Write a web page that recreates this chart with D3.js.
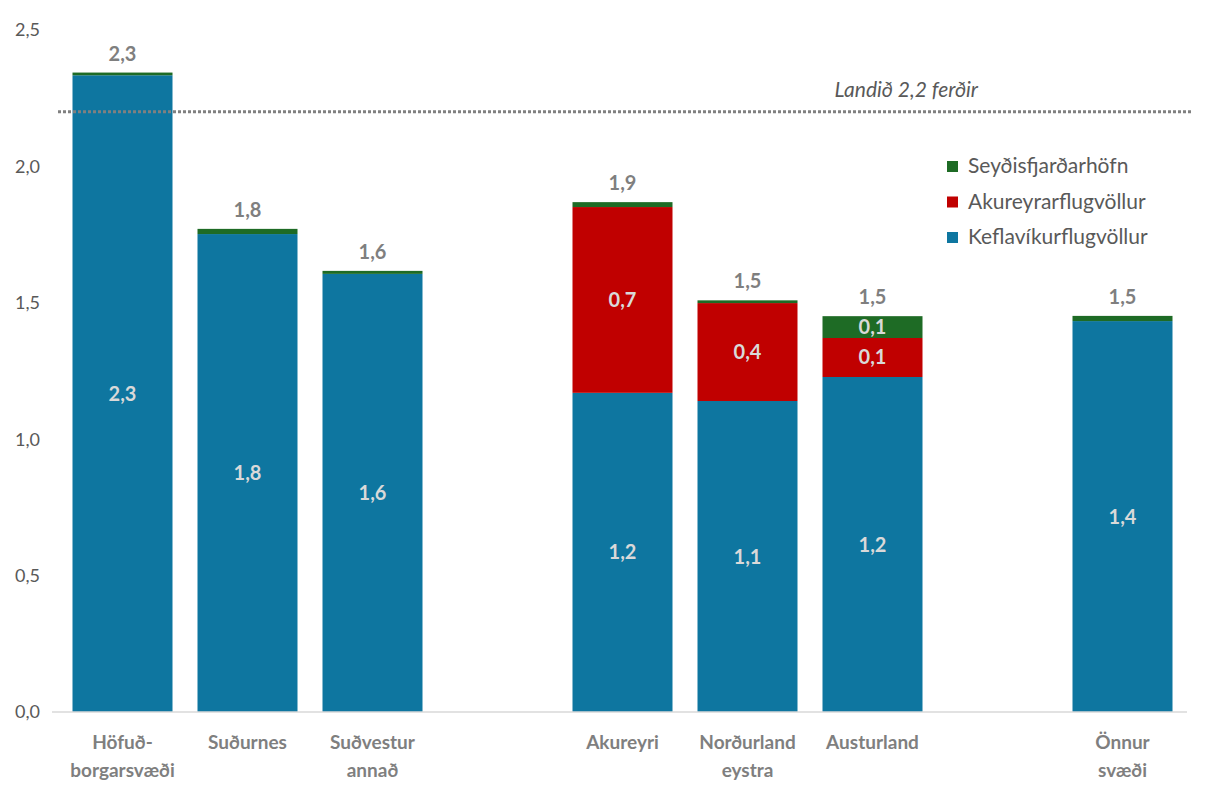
<!DOCTYPE html>
<html>
<head>
<meta charset="utf-8">
<script src="https://cdn.jsdelivr.net/npm/d3@7"></script>
<style>
  html, body { margin: 0; padding: 0; background: #fff; }
  svg { display: block; font-family: Lato, "Open Sans", sans-serif; }
</style>
</head>
<body>
<svg id="chart" width="1205" height="787"></svg>
<script>
// ---- data ----
const slots = ["Höfuðborgarsvæði", "Suðurnes", "Suðvestur annað", "_gap1", "Akureyri", "Norðurland eystra", "Austurland", "_gap2", "Önnur svæði"];
const categories = ["Höfuðborgarsvæði", "Suðurnes", "Suðvestur annað", "Akureyri", "Norðurland eystra", "Austurland", "Önnur svæði"];
const categoryLines = [["Höfuð-", "borgarsvæði"], ["Suðurnes"], ["Suðvestur", "annað"], ["Akureyri"], ["Norðurland", "eystra"], ["Austurland"], ["Önnur", "svæði"]];
const seriesNames = ["Keflavíkurflugvöllur", "Akureyrarflugvöllur", "Seyðisfjarðarhöfn"];
const keflavik = [2.334, 1.752, 1.606, 1.170, 1.140, 1.228, 1.433];
const akureyri = [0.000, 0.000, 0.000, 0.681, 0.359, 0.143, 0.000];
const seydis   = [0.010, 0.019, 0.011, 0.018, 0.010, 0.080, 0.019];
const yTicks = [0, 0.5, 1.0, 1.5, 2.0, 2.5];
const refValue = 2.2;
const refLabel = "Landið 2,2 ferðir";
const colors = ["#0e76a0", "#c00000", "#1e6b25"];

// ---- layout ----
const svg = d3.select("#chart");
const plotLeft = 60, plotRight = 1185, plotTop = 30, plotBottom = 712;

const x = d3.scaleBand().domain(slots).range([plotLeft, plotRight]).paddingInner(0.2).paddingOuter(0.1);
const y = d3.scaleLinear().domain([0, 2.5]).range([plotBottom, plotTop]);

const fmt = v => d3.format(".1f")(v).replace(".", ",");

const rows = categories.map((c, i) => ({ cat: c, k: keflavik[i], a: akureyri[i], s: seydis[i] }));
const stack = d3.stack().keys(["k", "a", "s"])(rows);

// y tick labels
svg.append("g").selectAll("text").data(yTicks).join("text")
  .attr("x", 40).attr("y", d => y(d)).attr("dy", "0.35em")
  .attr("text-anchor", "end").attr("fill", "#595959").attr("font-size", 18)
  .text(d => fmt(d));

// bars
stack.forEach((layer, li) => {
  svg.append("g").selectAll("rect").data(layer).join("rect")
    .attr("x", d => x(d.data.cat))
    .attr("width", x.bandwidth())
    .attr("y", d => y(d[1]))
    .attr("height", d => Math.max(0, y(d[0]) - y(d[1])))
    .attr("fill", colors[li]);
});
stack.forEach((layer, li) => {
  svg.append("g").selectAll("text").data(layer.filter(d => d[1] - d[0] >= 0.05)).join("text")
    .attr("x", d => x(d.data.cat) + x.bandwidth() / 2)
    .attr("y", d => (y(d[0]) + y(d[1])) / 2)
    .attr("dy", "0.35em")
    .attr("text-anchor", "middle").attr("fill", "#d9d9d9")
    .attr("font-size", 20).attr("font-weight", "bold")
    .text(d => fmt(d[1] - d[0]));
});

// totals
svg.append("g").selectAll("text").data(rows).join("text")
  .attr("x", d => x(d.cat) + x.bandwidth() / 2)
  .attr("y", d => y(d.k + d.a + d.s) - 12)
  .attr("text-anchor", "middle").attr("fill", "#7f7f7f")
  .attr("font-size", 20).attr("font-weight", "bold")
  .text(d => fmt(d.k + d.a + d.s));

// x axis line
svg.append("line").attr("x1", 52).attr("x2", 1187).attr("y1", y(0)).attr("y2", y(0))
  .attr("stroke", "#d9d9d9").attr("stroke-width", 1.5);

// category labels
const cl = svg.append("g").selectAll("text").data(categories).join("text")
  .attr("x", (d) => x(d) + x.bandwidth() / 2)
  .attr("y", 749)
  .attr("text-anchor", "middle").attr("fill", "#7f7f7f")
  .attr("font-size", 19).attr("font-weight", "bold");
cl.each(function(d, i) {
  const t = d3.select(this);
  categoryLines[i].forEach((ln, j) => {
    t.append("tspan").attr("x", x(d) + x.bandwidth() / 2).attr("dy", j === 0 ? 0 : 28).text(ln);
  });
});

// reference line
svg.append("line").attr("x1", 58).attr("x2", 1193).attr("y1", y(refValue)).attr("y2", y(refValue))
  .attr("stroke", "#808080").attr("stroke-width", 3).attr("stroke-dasharray", "3,2");
svg.append("text").attr("x", 978).attr("y", y(refValue) - 15)
  .attr("text-anchor", "end").attr("fill", "#595959").attr("font-size", 21)
  .attr("font-style", "italic").text(refLabel);

// legend (top-down: green, red, blue)
const legendItems = [2, 1, 0];
const lg = svg.append("g").selectAll("g").data(legendItems).join("g")
  .attr("transform", (d, i) => `translate(947, ${166 + i * 35.5})`);
lg.append("rect").attr("x", 0).attr("y", -5).attr("width", 11).attr("height", 11).attr("fill", d => colors[d]);
lg.append("text").attr("x", 21).attr("y", 0).attr("dy", "0.35em")
  .attr("fill", "#595959").attr("font-size", 21).text(d => seriesNames[d]);
</script>
</body>
</html>
